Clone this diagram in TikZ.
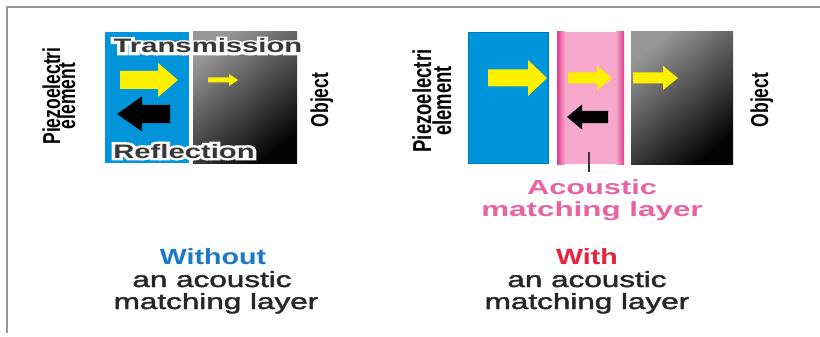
\documentclass[tikz,border=0pt]{standalone}
\usepackage{fontspec}
\setmainfont{Liberation Sans}
\newfontfamily\halofont[FakeBold=24]{Liberation Sans Bold}
\newfontfamily\capfont[FakeBold=1.6]{Liberation Sans}
\usetikzlibrary{calc}
\definecolor{piezo}{RGB}{0,148,218}
\definecolor{piezoedge}{RGB}{0,120,190}
\definecolor{layerdark}{RGB}{228,60,140}
\definecolor{layerlight}{RGB}{246,168,202}
\definecolor{objtop}{RGB}{150,150,150}
\definecolor{objbot}{RGB}{5,5,5}
\definecolor{wave}{RGB}{255,240,0}
\definecolor{framecol}{RGB}{150,150,150}
\definecolor{withoutblue}{RGB}{30,120,200}
\definecolor{withred}{RGB}{230,35,60}
\definecolor{labelpink}{RGB}{232,100,160}
\definecolor{halotxt}{RGB}{55,55,55}
\newcommand\wide[2][1.5]{\scalebox{#1}[1]{#2}}
\newcommand\tall[2][1.4]{\scalebox{1}[#1]{#2}}
% right-pointing block arrow: tail, tip, yc, shaft half, head half, head length
\newcommand\rarrow[7]{\fill[#7] (#1,{#3-#4}) -- ({#2-#6},{#3-#4}) -- ({#2-#6},{#3-#5}) -- (#2,#3) -- ({#2-#6},{#3+#5}) -- ({#2-#6},{#3+#4}) -- (#1,{#3+#4}) -- cycle;}
% left-pointing block arrow: tail, tip, yc, shaft half, head half, head length
\newcommand\larrow[7]{\fill[#7] (#1,{#3-#4}) -- ({#2+#6},{#3-#4}) -- ({#2+#6},{#3-#5}) -- (#2,#3) -- ({#2+#6},{#3+#5}) -- ({#2+#6},{#3+#4}) -- (#1,{#3+#4}) -- cycle;}
\newcommand\halotext[4]{%
  \node[txt, text=white] (#1h) at (#2,#3) {\wide{\fontsize{19.5}{20}\halofont #4}};
  \node[txt, text=halotxt] (#1) at (#2,#3) {\wide{\fontsize{19.5}{20}\selectfont\bfseries #4}};}
\tikzset{
  txt/.style={inner sep=0pt, anchor=base},
  rot/.style={inner sep=0pt, anchor=base, rotate=90},
  frameline/.style={draw=framecol, line width=1.2pt},
  caption/.style={txt, text=black!85},
}
\begin{document}
\begin{tikzpicture}[x=1pt,y=-1pt]
\useasboundingbox (0,0) rectangle (820,337);
\fill[white] (0,0) rectangle (820,337);
\draw[frameline] (7,333) -- (7,7) -- (820,7);

% ---------- left panel ----------
\fill[piezo] (105,32) rectangle (189,163);
\shade[top color=objtop, bottom color=objbot, shading angle=40] (193,32) rectangle (297,163);
\rarrow{120}{178}{80}{9}{17}{20}{wave}
\rarrow{208}{238}{80}{2.5}{6}{9}{wave}
\larrow{170}{117}{114}{9}{17.5}{25}{black}
\halotext{trans}{208}{53}{Transmission}
\halotext{refl}{184}{158}{Reflection}
\node[rot] (pzLa) at (60,96) {\tall{\fontsize{17.5}{18}\selectfont\bfseries Piezoelectri}};
\node[rot] (pzLb) at (75,96) {\tall{\fontsize{17.5}{18}\selectfont\bfseries element}};
\node[rot] (objL) at (328,100) {\tall{\fontsize{17.5}{18}\selectfont\bfseries Object}};

% ---------- right panel ----------
\fill[piezo] (468,32) rectangle (549,164);
\draw[piezoedge, line width=0.8pt] (468.4,32.4) rectangle (548.6,163.6);
\fill[layerlight] (557,32) rectangle (624,164);
\shade[left color=layerdark, right color=layerlight] (557,32) rectangle (565,164);
\shade[left color=layerlight, right color=layerdark] (616,32) rectangle (624,164);
\shade[top color=objtop, bottom color=objbot, shading angle=40] (631,32) rectangle (733,164);
\rarrow{488}{547}{78}{8.5}{18}{19}{wave}
\rarrow{568}{612}{78}{5.5}{12}{15}{wave}
\rarrow{633}{678}{78}{5.5}{12}{15}{wave}
\larrow{608}{567}{117}{6}{12.5}{15}{black}
\coordinate (tickT) at (589,152);
\coordinate (tickB) at (589,172);
\draw[halotxt, line width=2.5pt] (tickT) -- (tickB);
\node[txt, text=labelpink] (acR) at (592,194) {\wide{\fontsize{20.5}{21}\selectfont\bfseries Acoustic}};
\node[txt, text=labelpink] (mlR) at (592,216) {\wide[1.53]{\fontsize{20.5}{21}\selectfont\bfseries matching layer}};
\node[rot] (pzRa) at (431,101) {\tall{\fontsize{18.5}{19}\selectfont\bfseries Piezoelectri}};
\node[rot] (pzRb) at (451,101) {\tall{\fontsize{18.5}{19}\selectfont\bfseries element}};
\node[rot] (objR) at (768,100) {\tall{\fontsize{17.5}{18}\selectfont\bfseries Object}};

% ---------- captions ----------
\node[txt, text=withoutblue] (capL1) at (213,264) {\wide[1.3]{\fontsize{22}{23}\selectfont\bfseries Without}};
\node[caption] (capL2) at (212,287) {\wide[1.43]{\fontsize{22}{23}\capfont an acoustic}};
\node[caption] (capL3) at (216,309) {\wide[1.43]{\fontsize{22}{23}\capfont matching layer}};
\node[txt, text=withred] (capR1) at (587,264) {\wide[1.3]{\fontsize{22}{23}\selectfont\bfseries With}};
\node[caption] (capR2) at (587,287) {\wide[1.43]{\fontsize{22}{23}\capfont an acoustic}};
\node[caption] (capR3) at (587,309) {\wide[1.43]{\fontsize{22}{23}\capfont matching layer}};
\end{tikzpicture}
\end{document}
